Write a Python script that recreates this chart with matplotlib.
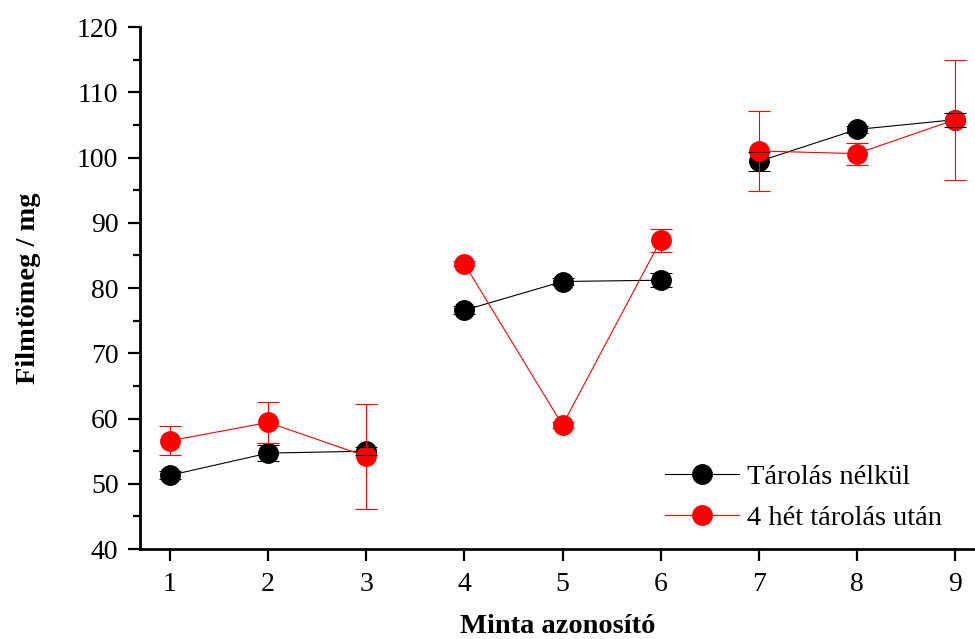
import numpy as np
import matplotlib
matplotlib.use('Agg')
import matplotlib.pyplot as plt
from matplotlib.ticker import MultipleLocator

plt.rcParams['font.family'] = ['Liberation Serif', 'DejaVu Serif']

minta = [1, 2, 3, 4, 5, 6, 7, 8, 9]
csoport = [1, 1, 1, 2, 2, 2, 3, 3, 3]

tarolas_nelkul = [51.3, 54.7, 55.0, 76.6, 81.0, 81.2, 99.4, 104.3, 105.8]
tarolas_nelkul_err = [0.6, 1.2, 0.6, 0.6, 0.6, 1.1, 1.4, 0.5, 1.1]

tarolas_utan = [56.6, 59.4, 54.2, 83.7, 59.0, 87.3, 101.0, 100.6, 105.8]
tarolas_utan_err = [2.2, 3.2, 8.1, 0.4, 0.5, 1.8, 6.2, 1.7, 9.2]

fig = plt.figure(figsize=(9.75, 6.39), dpi=100)
ax = fig.add_axes([0.1436, 0.1408, 0.8564, 0.8169])

x = np.array(minta)
g = np.array(csoport)

series = [
    (np.array(tarolas_nelkul), np.array(tarolas_nelkul_err), 'black', 'Tárolás nélkül'),
    (np.array(tarolas_utan), np.array(tarolas_utan_err), 'red', '4 hét tárolás után'),
]

for y, err, c, lab in series:
    for k in np.unique(g):
        m = g == k
        ax.plot(x[m], y[m], '-', color=c, lw=0.8, zorder=2)
        ax.plot(x[m], y[m], 'o', color=c, ms=14, mec=c, zorder=2)
    ax.plot([], [], '-o', color=c, lw=0.8, ms=14, label=lab)

for y, err, c, lab in series:
    ax.errorbar(x, y, yerr=err, fmt='none', ecolor=c, elinewidth=0.8,
                capsize=8, capthick=0.8, zorder=3)

ax.set_xlim(0.694, 9.204)
ax.set_ylim(40, 120)
ax.set_xticks(minta)
ax.yaxis.set_major_locator(MultipleLocator(10))
ax.yaxis.set_minor_locator(MultipleLocator(5))

ax.spines['top'].set_visible(False)
ax.spines['right'].set_visible(False)
plt.setp(ax.spines.values(), linewidth=2)
ax.tick_params(which='major', direction='out', length=8.5, width=1.6, labelsize=20)
ax.tick_params(which='minor', direction='out', length=5, width=1.6)
ax.tick_params(axis='x', pad=8)
ax.tick_params(axis='y', pad=7)

ax.set_xlabel('Minta azonosító', fontsize=20.5, fontweight='bold', labelpad=12)
ax.set_ylabel('Filmtömeg / mg', fontsize=20.5, fontweight='bold', labelpad=26)

ax.legend(loc='lower right', bbox_to_anchor=(0.982, 0.0), frameon=False, fontsize=20.5,
          handlelength=2.6, numpoints=1, handletextpad=0.3, labelspacing=0.53,
          borderaxespad=0.22)

fig.savefig('out.png', dpi=100)
